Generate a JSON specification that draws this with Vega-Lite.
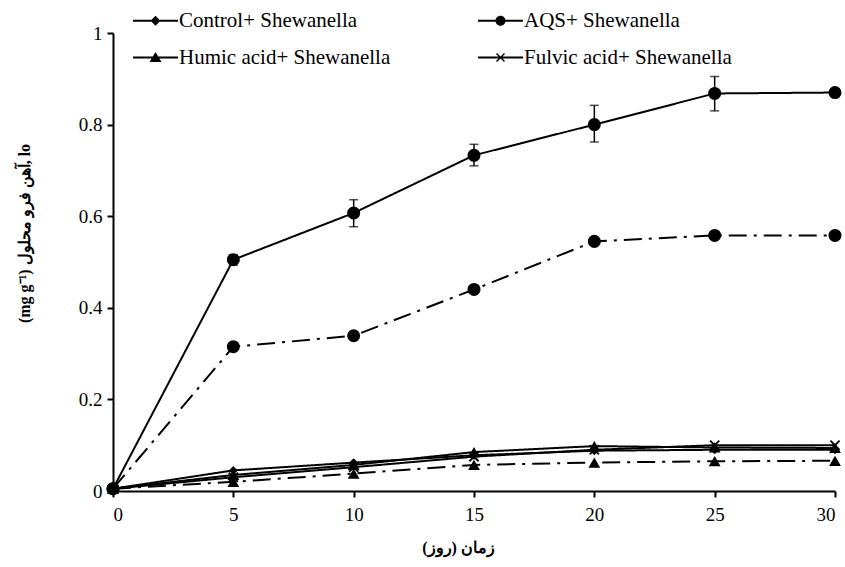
{
  "$schema": "https://vega.github.io/schema/vega-lite/v6.json",
  "width": 722,
  "height": 458,
  "autosize": {"type": "none"},
  "padding": {"left": 113, "top": 33, "right": 10, "bottom": 76},
  "background": "white",
  "config": {
    "view": {"stroke": null},
    "font": "Times New Roman, Liberation Serif, serif",
    "axis": {
      "domainColor": "black", "domainWidth": 2,
      "tickColor": "black", "tickWidth": 2, "tickSize": 6,
      "labelColor": "black", "labelFont": "Times New Roman, Liberation Serif, serif", "labelFontSize": 19,
      "grid": false,
      "titleColor": "black", "titleFont": "Times New Roman, Liberation Serif, serif", "titleFontWeight": "bold", "titleFontSize": 16
    }
  },
  "data": {
    "values": [
      {"series": "Control+ Shewanella", "bacteria": "with", "day": 0, "value": 0.005},
      {"series": "Control+ Shewanella", "bacteria": "with", "day": 5, "value": 0.045},
      {"series": "Control+ Shewanella", "bacteria": "with", "day": 10, "value": 0.062},
      {"series": "Control+ Shewanella", "bacteria": "with", "day": 15, "value": 0.078},
      {"series": "Control+ Shewanella", "bacteria": "with", "day": 20, "value": 0.088},
      {"series": "Control+ Shewanella", "bacteria": "with", "day": 25, "value": 0.09},
      {"series": "Control+ Shewanella", "bacteria": "with", "day": 30, "value": 0.09},
      {"series": "AQS+ Shewanella", "bacteria": "with", "day": 0, "value": 0.005},
      {"series": "AQS+ Shewanella", "bacteria": "with", "day": 5, "value": 0.505, "lo": 0.493, "hi": 0.516},
      {"series": "AQS+ Shewanella", "bacteria": "with", "day": 10, "value": 0.607, "lo": 0.577, "hi": 0.636},
      {"series": "AQS+ Shewanella", "bacteria": "with", "day": 15, "value": 0.733, "lo": 0.71, "hi": 0.757},
      {"series": "AQS+ Shewanella", "bacteria": "with", "day": 20, "value": 0.8, "lo": 0.762, "hi": 0.842},
      {"series": "AQS+ Shewanella", "bacteria": "with", "day": 25, "value": 0.868, "lo": 0.83, "hi": 0.905},
      {"series": "AQS+ Shewanella", "bacteria": "with", "day": 30, "value": 0.87},
      {"series": "Humic acid+ Shewanella", "bacteria": "with", "day": 0, "value": 0.005},
      {"series": "Humic acid+ Shewanella", "bacteria": "with", "day": 5, "value": 0.035},
      {"series": "Humic acid+ Shewanella", "bacteria": "with", "day": 10, "value": 0.057},
      {"series": "Humic acid+ Shewanella", "bacteria": "with", "day": 15, "value": 0.085},
      {"series": "Humic acid+ Shewanella", "bacteria": "with", "day": 20, "value": 0.098},
      {"series": "Humic acid+ Shewanella", "bacteria": "with", "day": 25, "value": 0.095},
      {"series": "Humic acid+ Shewanella", "bacteria": "with", "day": 30, "value": 0.094},
      {"series": "Fulvic acid+ Shewanella", "bacteria": "with", "day": 0, "value": 0.005},
      {"series": "Fulvic acid+ Shewanella", "bacteria": "with", "day": 5, "value": 0.03},
      {"series": "Fulvic acid+ Shewanella", "bacteria": "with", "day": 10, "value": 0.052},
      {"series": "Fulvic acid+ Shewanella", "bacteria": "with", "day": 15, "value": 0.075},
      {"series": "Fulvic acid+ Shewanella", "bacteria": "with", "day": 20, "value": 0.09},
      {"series": "Fulvic acid+ Shewanella", "bacteria": "with", "day": 25, "value": 0.1},
      {"series": "Fulvic acid+ Shewanella", "bacteria": "with", "day": 30, "value": 0.1},
      {"series": "AQS", "bacteria": "without", "day": 0, "value": 0.005},
      {"series": "AQS", "bacteria": "without", "day": 5, "value": 0.315},
      {"series": "AQS", "bacteria": "without", "day": 10, "value": 0.339},
      {"series": "AQS", "bacteria": "without", "day": 15, "value": 0.44},
      {"series": "AQS", "bacteria": "without", "day": 20, "value": 0.545},
      {"series": "AQS", "bacteria": "without", "day": 25, "value": 0.558},
      {"series": "AQS", "bacteria": "without", "day": 30, "value": 0.558},
      {"series": "Humic acid", "bacteria": "without", "day": 0, "value": 0.005},
      {"series": "Humic acid", "bacteria": "without", "day": 5, "value": 0.02},
      {"series": "Humic acid", "bacteria": "without", "day": 10, "value": 0.038},
      {"series": "Humic acid", "bacteria": "without", "day": 15, "value": 0.057},
      {"series": "Humic acid", "bacteria": "without", "day": 20, "value": 0.062},
      {"series": "Humic acid", "bacteria": "without", "day": 25, "value": 0.065},
      {"series": "Humic acid", "bacteria": "without", "day": 30, "value": 0.066}
    ]
  },
  "resolve": {"scale": {"shape": "independent"}, "legend": {"shape": "independent"}},
  "layer": [
    {
      "mark": {"type": "line", "strokeWidth": 2, "color": "black"},
      "encoding": {
        "x": {
          "field": "day", "type": "quantitative",
          "scale": {"domain": [0, 30], "nice": false},
          "axis": {"values": [0, 5, 10, 15, 20, 25, 30], "title": "(روز) زمان", "labelPadding": 8, "titlePadding": 15, "titleX": 345}
        },
        "y": {
          "field": "value", "type": "quantitative",
          "scale": {"domain": [0, 1], "nice": false},
          "axis": {"values": [0, 0.2, 0.4, 0.6, 0.8, 1], "format": "~g", "title": "(mg g\u207b\u00b9) آهن فرو محلول", "labelPadding": 5, "titlePadding": 46, "titleY": 200}
        },
        "detail": {"field": "series"},
        "strokeDash": {
          "field": "bacteria", "type": "nominal",
          "scale": {"domain": ["with", "without"], "range": [[1, 0], [18, 7, 3, 7]]},
          "legend": null
        }
      }
    },
    {
      "transform": [{"filter": "isValid(datum.hi)"}],
      "mark": {"type": "errorbar", "ticks": {"size": 9, "color": "black"}, "color": "black", "thickness": 1.5},
      "encoding": {
        "x": {"field": "day", "type": "quantitative"},
        "y": {"field": "lo", "type": "quantitative"},
        "y2": {"field": "hi"}
      }
    },
    {
      "mark": {
        "type": "point", "filled": true, "color": "black", "opacity": 1,
        "size": {"expr": "datum.series === 'Control+ Shewanella' ? 80 : (datum.series === 'Fulvic acid+ Shewanella' ? 110 : (datum.series === 'AQS+ Shewanella' || datum.series === 'AQS' ? 170 : 140))"}
      },
      "encoding": {
        "x": {"field": "day", "type": "quantitative"},
        "y": {"field": "value", "type": "quantitative"},
        "shape": {
          "field": "series", "type": "nominal",
          "scale": {
            "domain": ["Control+ Shewanella", "AQS+ Shewanella", "Humic acid+ Shewanella", "Fulvic acid+ Shewanella", "AQS", "Humic acid"],
            "range": ["diamond", "circle", "triangle-up", "M-1,-0.75L-0.75,-1L1,0.75L0.75,1ZM-1,0.75L0.75,-1L1,-0.75L-0.75,1Z", "circle", "triangle-up"]
          },
          "legend": null
        }
      }
    },
    {
      "transform": [{"filter": "datum.day > 1000"}],
      "mark": {"type": "point", "filled": true, "color": "black", "opacity": 1},
      "encoding": {
        "x": {"field": "day", "type": "quantitative"},
        "y": {"field": "value", "type": "quantitative"},
        "shape": {
          "field": "series", "type": "nominal",
          "scale": {
            "domain": ["Control+ Shewanella", "AQS+ Shewanella", "Humic acid+ Shewanella", "Fulvic acid+ Shewanella"],
            "range": [
              "M-4.5,-0.2H4.5V0.2H-4.5ZM0,-1L1,0L0,1L-1,0Z",
              "M-4.5,-0.2H4.5V0.2H-4.5ZM1,0A1,1,0,1,1,-1,0A1,1,0,1,1,1,0Z",
              "M-4.5,-0.2H4.5V0.2H-4.5ZM0,-1.1L1.2,0.9H-1.2Z",
              "M-4.5,-0.2H4.5V0.2H-4.5ZM-0.9,-0.7L-0.7,-0.9L0.9,0.7L0.7,0.9ZM-0.9,0.7L0.7,-0.9L0.9,-0.7L-0.7,0.9Z"
            ]
          },
          "legend": {
            "orient": "none", "legendX": 32, "legendY": -23,
            "direction": "horizontal",
            "columns": 2, "title": null, "padding": 0,
            "symbolSize": 100,
            "symbolFillColor": "black",
            "labelFont": "Times New Roman, Liberation Serif, serif", "labelFontSize": 21, "labelColor": "black", "labelLimit": 400,
            "labelOffset": 13, "rowPadding": 15, "columnPadding": 84
          }
        }
      }
    }
  ]
}
